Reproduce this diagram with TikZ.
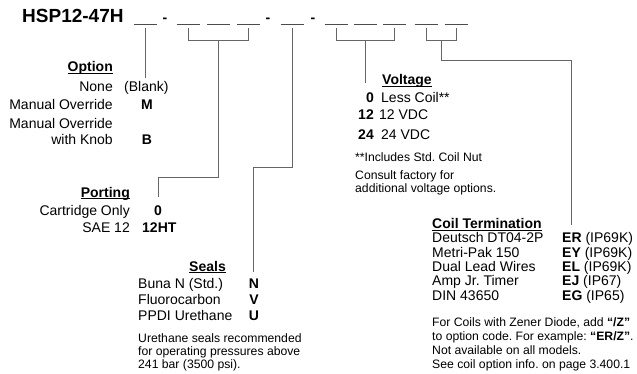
\documentclass[tikz,border=0pt]{standalone}
\usepackage{fontspec}
\setmainfont{Liberation Sans}
\frenchspacing
\tikzset{
	lbl/.style={inner sep=0pt, font=\fontsize{14}{14}\selectfont},
	code/.style={inner sep=0pt, font=\fontsize{14}{14}\selectfont\bfseries},
	note/.style={inner sep=0pt, anchor=base west, font=\fontsize{12.2}{13}\selectfont},
	ttl/.style={inner sep=0pt, font=\fontsize{19}{19}\selectfont\bfseries},
	lead/.style={draw=black!60, line width=0.9pt},
	blank/.style={draw=black!70, line width=1pt},
}
\newcommand{\hd}[1]{\underline{\smash{\bfseries #1}}}
\begin{document}
\begin{tikzpicture}[x=1pt,y=-1pt]
	    \useasboundingbox (0,0) rectangle (637,374);
	    % part number
	    \node[ttl, anchor=base west] (pn) at (22,23) {HSP12-47H};
	    \foreach \x in {165,268,313}
	        \node[code, anchor=base] at (\x,23) {-};
	    \foreach \x [count=\i] in {145,188.5,218.5,248.5,292.5,336,365,394.5,426,456} {
	        \draw[blank] (\x-11.5,25) -- (\x+11.5,25);
	        \coordinate (b\i) at (\x,28);
	    }
	    % bends and ends of the leads
	    \coordinate (optend) at (145,78);
	    \coordinate (prtmid) at (218.5,40);
	    \coordinate (prtend) at (158,197);
	    \coordinate (slsend) at (253.5,272);
	    \coordinate (vltmid) at (365.5,40);
	    \coordinate (vltend) at (365.5,83);
	    \coordinate (coimid) at (441,40);
	    \coordinate (coiend) at (571,225);
	    \draw[lead] (b1) -- (optend);
	    \draw[lead] (b2) -- ++(0,12) -| (b4);
	    \draw[lead] (prtmid) -- ++(0,137) -| (prtend);
	    \draw[lead] (b5) -- ++(0,139) -| (slsend);
	    \draw[lead] (b6) -- ++(0,12) -| (b8);
	    \draw[lead] (vltmid) -- (vltend);
	    \draw[lead] (b9) -- ++(0,12) -| (b10);
	    \draw[lead] (coimid) -- ++(0,20) -| (coiend);
	    % option
	    \node[lbl, anchor=base east] (opt) at (113,72) {\hd{Option}};
	    \node[lbl, anchor=base east] (opt1) at (113,92) {None};
	    \node[lbl, anchor=base west] (optc1) at (124,92) {(Blank)};
	    \node[lbl, anchor=base east] (opt2) at (113,110) {Manual Override};
	    \node[code, anchor=base] (optc2) at (147,110) {M};
	    \node[lbl, anchor=base east] (opt3) at (113,129) {Manual Override};
	    \node[lbl, anchor=base east] (opt4) at (113,145) {with Knob};
	    \node[code, anchor=base] (optc3) at (147,145) {B};
	    % porting
	    \node[lbl, anchor=base east] (prt) at (130,197) {\hd{Porting}};
	    \node[lbl, anchor=base east] (prt1) at (130,215) {Cartridge Only};
	    \node[code, anchor=base] (prtc1) at (158,215) {0};
	    \node[lbl, anchor=base east] (prt2) at (130,233) {SAE 12};
	    \node[code, anchor=base west] (prtc2) at (142,233) {12HT};
	    % seals
	    \node[lbl, anchor=base east] (sls) at (226,271) {\hd{Seals}};
	    \node[lbl, anchor=base west] (sls1) at (138,288) {Buna N (Std.)};
	    \node[lbl, anchor=base west] (sls2) at (138,304) {Fluorocarbon};
	    \node[lbl, anchor=base west] (sls3) at (138,320) {PPDI Urethane};
	    \node[code, anchor=base] (slsc1) at (254,288) {N};
	    \node[code, anchor=base] (slsc2) at (254,304) {V};
	    \node[code, anchor=base] (slsc3) at (254,320) {U};
	    \node[note] (slsn1) at (138,342) {Urethane seals recommended};
	    \node[note] (slsn2) at (138,355) {for operating pressures above};
	    \node[note] (slsn3) at (138,368) {241 bar (3500 psi).};
	    % voltage
	    \node[lbl, anchor=base west] (vlt) at (382,85) {\hd{Voltage}};
	    \node[code, anchor=base east] (vltc1) at (374,103) {0};
	    \node[code, anchor=base east] (vltc2) at (374,120) {12};
	    \node[code, anchor=base east] (vltc3) at (374,140) {24};
	    \node[lbl, anchor=base west] (vlt1) at (381,103) {Less Coil**};
	    \node[lbl, anchor=base west] (vlt2) at (379,120) {12 VDC};
	    \node[lbl, anchor=base west] (vlt3) at (381,140) {24 VDC};
	    \node[note] (vltn1) at (355,162) {**Includes Std. Coil Nut};
	    \node[note] (vltn2) at (355,180) {Consult factory for};
	    \node[note] (vltn3) at (355,193) {additional voltage options.};
	    % coil termination
	    \node[lbl, anchor=base west] (coi) at (432,229) {\hd{Coil Termination}};
	    \node[lbl, anchor=base west] (coi1) at (432,243) {Deutsch DT04-2P};
	    \node[lbl, anchor=base west] (coi2) at (432,257.3) {Metri-Pak 150};
	    \node[lbl, anchor=base west] (coi3) at (432,271.6) {Dual Lead Wires};
	    \node[lbl, anchor=base west] (coi4) at (432,285.9) {Amp Jr. Timer};
	    \node[lbl, anchor=base west] (coi5) at (432,300.2) {DIN 43650};
	    \node[lbl, anchor=base west] (coic1) at (562,243) {\textbf{ER} (IP69K)};
	    \node[lbl, anchor=base west] (coic2) at (562,257.3) {\textbf{EY} (IP69K)};
	    \node[lbl, anchor=base west] (coic3) at (562,271.6) {\textbf{EL} (IP69K)};
	    \node[lbl, anchor=base west] (coic4) at (562,285.9) {\textbf{EJ} (IP67)};
	    \node[lbl, anchor=base west] (coic5) at (562,300.2) {\textbf{EG} (IP65)};
	    \node[note] (coin1) at (432,326) {For Coils with Zener Diode, add \textbf{``/Z''}};
	    \node[note] (coin2) at (432,340) {to option code. For example: \textbf{``ER/Z''}.};
	    \node[note] (coin3) at (432,354) {Not available on all models.};
	    \node[note] (coin4) at (432,368) {See coil option info. on page 3.400.1};
\end{tikzpicture}
\end{document}
